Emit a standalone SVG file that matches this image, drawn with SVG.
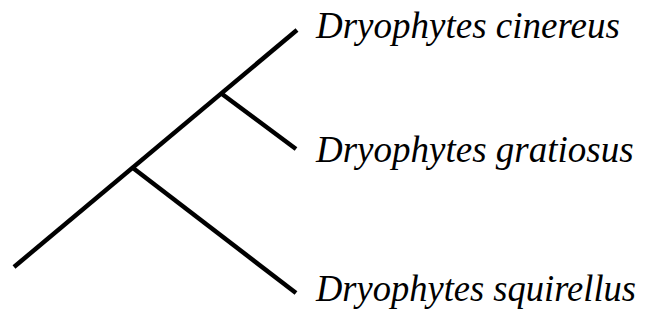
<svg xmlns="http://www.w3.org/2000/svg" width="650" height="320" viewBox="0 0 650 320">
  <style>
    .branch { stroke: #000; stroke-width: 4.5; stroke-linecap: butt; fill: none; }
    .taxon { font-family: "Liberation Serif", "Times New Roman", serif; font-style: italic; font-size: 37px; fill: #000; }
  </style>
  <rect width="650" height="320" fill="#fff"/>
  <g id="connectors">
    <line class="branch" x1="14" y1="267" x2="297" y2="30"/>
    <line class="branch" x1="133" y1="168" x2="296" y2="293"/>
    <line class="branch" x1="222" y1="94" x2="296" y2="149"/>
  </g>
  <g id="cinereus">
    <text class="taxon" x="316" y="38">Dryophytes cinereus</text>
  </g>
  <g id="gratiosus">
    <text class="taxon" x="316" y="162">Dryophytes gratiosus</text>
  </g>
  <g id="squirellus">
    <text class="taxon" x="316" y="301" textLength="320" lengthAdjust="spacingAndGlyphs">Dryophytes squirellus</text>
  </g>
</svg>
